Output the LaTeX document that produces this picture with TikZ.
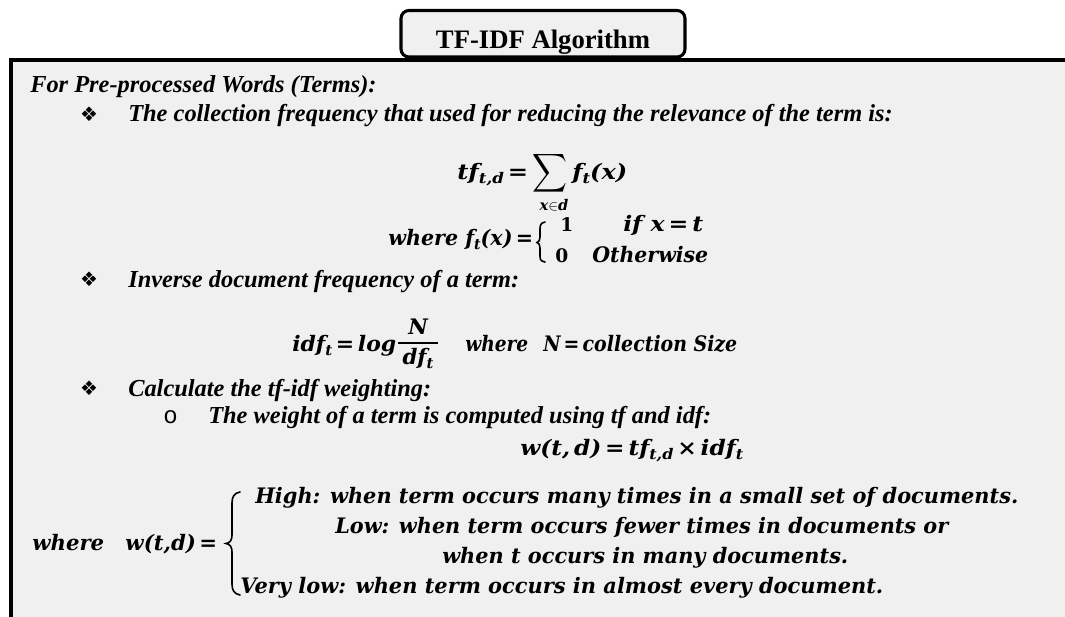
\documentclass[tikz,border=0pt]{standalone}
\usepackage{fontspec}
\setmainfont{Liberation Serif}
\newfontfamily\symfont{DejaVu Sans}
\newfontfamily\mfont{DejaVu Serif}
\newfontfamily\monofont{Liberation Mono}
\definecolor{panel}{HTML}{F0F0F0}
\newdimen\pxu \pxu=0.75pt
% squeeze a formula horizontally to a given width (in px), height kept
\newcommand\fitto[2]{\resizebox{#1\pxu}{\height}{#2}}
\newcommand\sub[1]{\raisebox{-4\pxu}{\fontsize{11}{11}\selectfont #1}}
\begin{document}
\begin{tikzpicture}[x=0.75pt,y=-0.75pt,
  txt/.style={anchor=base west, inner sep=0pt, font=\bfseries\itshape\fontsize{18.3}{21}\selectfont},
  mth/.style={anchor=base west, inner sep=0pt, font=\mfont\bfseries\itshape\fontsize{16}{19}\selectfont},
  msm/.style={mth, font=\mfont\bfseries\itshape\fontsize{11}{13}\selectfont},
  dig/.style={mth, font=\mfont\bfseries\fontsize{14}{16}\selectfont},
  bul/.style={inner sep=0pt, font=\symfont\fontsize{15}{15}\selectfont},
  brc/.style={line width=1.2pt, line cap=round},
  frame/.style={line width=3pt},
  titlebox/.style={draw, fill=panel, line width=2.3pt, rounded corners=6pt,
    minimum width=213pt, minimum height=34.9pt, inner sep=0pt,
    text height=21.75pt, text depth=0pt,
    font=\bfseries\fontsize{20}{24}\selectfont}]
\useasboundingbox (0,0) rectangle (1065,617);
\clip (0,0) rectangle (1065,617);

% panel
\fill[panel] (10,60) rectangle (1090,640);
\draw[frame] (10.5,640) -- (10.5,60) -- (1090,60);

% heading tab
\node[titlebox] (title) at (543,33.75) {TF-IDF Algorithm};

% text lines
\node[txt] (head) at (30,93) {For Pre-processed Words (Terms):};
\node[bul] (b1) at (89,114) {❖};
\node[txt] (l1) at (128,122) {The collection frequency that used for reducing the relevance of the term is:};
\node[bul] (b2) at (89,279) {❖};
\node[txt] (l2) at (128,287) {Inverse document frequency of a term:};
\node[bul] (b3) at (89,388) {❖};
\node[txt] (l3) at (128,396) {Calculate the tf-idf weighting:};
\node[anchor=base west, inner sep=0pt, font=\monofont\fontsize{18}{21}\selectfont] (b4) at (163,423) {o};
\node[txt] (l4) at (208,423) {The weight of a term is computed using tf and idf:};

% term frequency
\node[mth] (tfl) at (457,180) {\fitto{71}{tf\sub{t,d}\,=}};
\node[inner sep=0pt] (sum) at (549.5,173.5) {\resizebox*{35\pxu}{43\pxu}{$\displaystyle\sum$}};
\node[msm, anchor=base] (sumx) at (554,210) {x$\in$d};
\node[mth] (tfr) at (572,180) {\fitto{55}{f\sub{t}(x)}};

\node[mth] (fdef) at (388,245) {\fitto{145}{where f\sub{t}(x)\,=}};
\draw[brc] (545,222) .. controls (540,223) and (540,226) .. (540,230) -- (540,237)
  .. controls (540,240) and (539,242) .. (537,242.5)
  .. controls (539,243) and (540,245) .. (540,248) -- (540,255)
  .. controls (540,259) and (540,261) .. (545,262);
\node[dig] (one) at (560,231) {1};
\node[mth] (ifx) at (623,231) {\fitto{80}{if x\,=\,t}};
\node[dig] (zero) at (555,262) {0};
\node[mth] (oth) at (592,262) {\fitto{116}{Otherwise}};

% inverse document frequency
\node[mth] (idfl) at (292,351) {\fitto{104}{idf\sub{t}\,=\,log}};
\node[mth, anchor=base] (num) at (418,334) {N};
\node[mth, anchor=base] (den) at (418,364) {df\sub{t}};
\draw[line width=1.1pt] (398,343) -- (438,343);
\node[mth] (wh1) at (465,351) {\fitto{63}{where}};
\node[mth] (nsz) at (543,351) {\fitto{194}{N\,=\,collection Size}};

% weight
\node[mth] (wdef) at (520,455) {\fitto{223}{w(t,\,d)\,=\,tf\sub{t,d}\,×\,idf\sub{t}}};

% cases
\node[mth] (wcase) at (32,550) {\fitto{185}{where\quad w(t,d)\,=}};
\draw[brc] (240,492) .. controls (234,493) and (232,497) .. (232,503) -- (232,535)
  .. controls (232,540) and (230,543) .. (226,543.5)
  .. controls (230,544) and (232,547) .. (232,552) -- (232,584)
  .. controls (232,590) and (234,594) .. (240,595);
\node[mth] (c1) at (255,503) {\fitto{763}{High: when term occurs many times in a small set of documents.}};
\node[mth] (c2) at (335,533) {\fitto{613}{Low: when term occurs fewer times in documents or}};
\node[mth] (c3) at (442,563) {\fitto{406}{when t occurs in many documents.}};
\node[mth] (c4) at (240,593) {\fitto{643}{Very low: when term occurs in almost every document.}};
\end{tikzpicture}
\end{document}
